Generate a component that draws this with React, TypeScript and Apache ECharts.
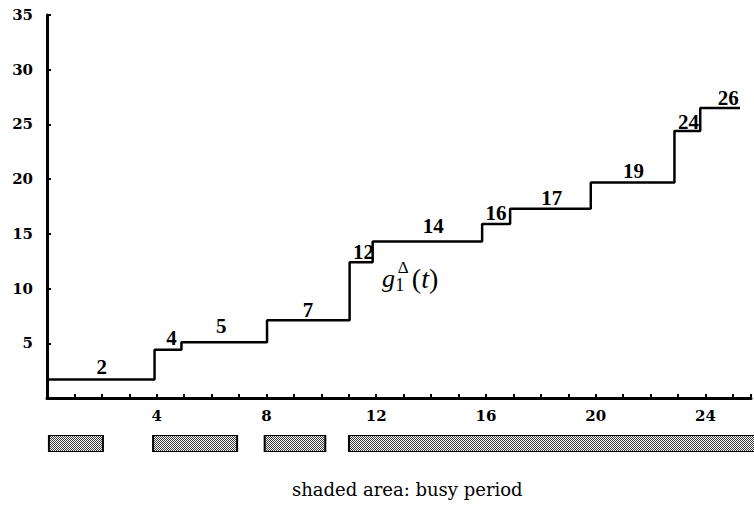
import React, { useEffect, useRef } from 'react';
import * as echarts from 'echarts';

// step function g1(t): times where a new level starts, and the level values
const stepTimes = [0, 3.92, 4.9, 8.02, 11.03, 11.87, 15.86, 16.88, 19.82, 22.87, 23.81, 25.26];
const stepLevels = [1.7, 4.4, 5.1, 7.1, 12.4, 14.3, 15.9, 17.3, 19.7, 24.4, 26.5, 26.5];

// level annotations
const levelLabels = ['2', '4', '5', '7', '12', '14', '16', '17', '19', '24', '26'];
const labelTimes = [2.0, 4.54, 6.35, 9.51, 11.54, 14.08, 16.37, 18.4, 21.38, 23.38, 24.83];
const labelValues = [2.8, 5.46, 6.56, 8.02, 13.3, 15.7, 16.9, 18.3, 20.7, 25.2, 27.4];

// busy periods (shaded bars)
const busyStarts = [0.07, 3.85, 7.9, 10.96];
const busyEnds = [2.03, 6.9, 10.1, 26];

// tick labels
const xTickLabels = [4, 8, 12, 16, 20, 24];
const yTickLabels = [5, 10, 15, 20, 25, 30, 35];

const X_MAX = 25.66;

function makePattern() {
  const c = document.createElement('canvas');
  c.width = 4;
  c.height = 4;
  const ctx = c.getContext('2d');
  if (ctx) {
    ctx.fillStyle = '#ffffff';
    ctx.fillRect(0, 0, 4, 4);
    ctx.fillStyle = '#3a3a3a';
    for (let y = 0; y < 4; y++) {
      for (let x = 0; x < 4; x++) {
        if ((x + y) % 2 === 0) ctx.fillRect(x, y, 1, 1);
      }
    }
  }
  return { image: c.toDataURL(), repeat: 'repeat', imageWidth: 4, imageHeight: 4 };
}

export default function App() {
  const ref = useRef<HTMLDivElement>(null);
  useEffect(() => {
    if (!ref.current) return;
    const chart = echarts.init(ref.current, null, { renderer: 'svg' });
    const pattern = makePattern();
    const axisFont = { fontFamily: 'DejaVu Serif', fontWeight: 'bold', fontSize: 15, color: '#000' };

    const option: any = {
      animation: false,
      backgroundColor: '#ffffff',
      grid: [
        { left: 47, right: 0, top: 15, bottom: 115 },
        { left: 47, right: 0, top: 435, height: 17 },
      ],
      xAxis: [
        {
          type: 'value',
          gridIndex: 0,
          min: 0,
          max: X_MAX,
          interval: 1,
          splitLine: { show: false },
          axisLine: { show: true, lineStyle: { color: '#000', width: 3 } },
          axisTick: { show: true, inside: true, length: 4, lineStyle: { color: '#000', width: 2 } },
          axisLabel: {
            ...axisFont,
            margin: 10,
            formatter: (v: number) => (xTickLabels.includes(v) ? String(v) : ''),
          },
        },
        { type: 'value', gridIndex: 1, min: 0, max: X_MAX, show: false },
      ],
      yAxis: [
        {
          type: 'value',
          gridIndex: 0,
          min: 0,
          max: 35,
          interval: 5,
          splitLine: { show: false },
          axisLine: { show: true, lineStyle: { color: '#000', width: 3 } },
          axisTick: { show: true, inside: true, length: 4, lineStyle: { color: '#000', width: 2 } },
          axisLabel: {
            ...axisFont,
            margin: 14,
            formatter: (v: number) => (yTickLabels.includes(v) ? String(v) : ''),
          },
        },
        { type: 'value', gridIndex: 1, min: 0, max: 1, show: false },
      ],
      series: [
        {
          type: 'line',
          xAxisIndex: 0,
          yAxisIndex: 0,
          step: 'end',
          symbol: 'none',
          data: stepTimes.map((t, i) => [t, stepLevels[i]]),
          lineStyle: { color: '#000', width: 2.5 },
        },
        {
          type: 'scatter',
          xAxisIndex: 0,
          yAxisIndex: 0,
          symbolSize: 0,
          itemStyle: { color: '#000' },
          emphasis: { disabled: true },
          data: levelLabels.map((n, i) => ({ name: n, value: [labelTimes[i], labelValues[i]] })),
          label: {
            show: true,
            position: 'inside',
            formatter: '{b}',
            fontFamily: 'Liberation Serif',
            fontWeight: 'bold',
            fontSize: 21,
            color: '#000',
            opacity: 1,
            textBorderWidth: 0,
          },
        },
        {
          type: 'scatter',
          xAxisIndex: 0,
          yAxisIndex: 0,
          symbolSize: 0,
          itemStyle: { color: '#000' },
          emphasis: { disabled: true },
          data: [
            { name: 'g', value: [12.45, 10.95], label: { formatter: 'g', fontStyle: 'italic', fontSize: 26 } },
            { name: 'Δ', value: [12.98, 11.9], label: { formatter: 'Δ', fontSize: 17 } },
            { name: '1', value: [12.86, 10.35], label: { formatter: '1', fontSize: 18 } },
            {
              name: '(t)',
              value: [13.78, 10.9],
              label: {
                formatter: '{n|(}{i|t}{n|)}',
                rich: {
                  n: { fontFamily: 'Liberation Serif', fontSize: 28, color: '#000' },
                  i: { fontFamily: 'Liberation Serif', fontSize: 28, fontStyle: 'italic', color: '#000' },
                },
              },
            },
          ],
          label: {
            show: true,
            position: 'inside',
            fontFamily: 'Liberation Serif',
            color: '#000',
            opacity: 1,
            textBorderWidth: 0,
          },
        },
        {
          type: 'custom',
          xAxisIndex: 1,
          yAxisIndex: 1,
          clip: true,
          data: busyStarts.map((s, i) => [s, busyEnds[i]]),
          renderItem: (params: any, api: any) => {
            const p0 = api.coord([api.value(0), 0]);
            const p1 = api.coord([api.value(1), 1]);
            return {
              type: 'rect',
              shape: { x: p0[0], y: p1[1], width: p1[0] - p0[0], height: p0[1] - p1[1] },
              style: { fill: pattern, stroke: '#000', lineWidth: 2 },
            };
          },
        },
      ],
      graphic: [
        {
          type: 'text',
          left: 292,
          top: 480,
          style: {
            text: 'shaded area: busy period',
            fontFamily: 'DejaVu Serif',
            fontSize: 18,
            fill: '#000',
          },
        },
      ],
    };
    chart.setOption(option);
    return () => chart.dispose();
  }, []);

  return (
    <div
      ref={ref}
      style={{ position: 'fixed', left: 0, top: 0, width: 754, height: 513, background: '#fff' }}
    />
  );
}
